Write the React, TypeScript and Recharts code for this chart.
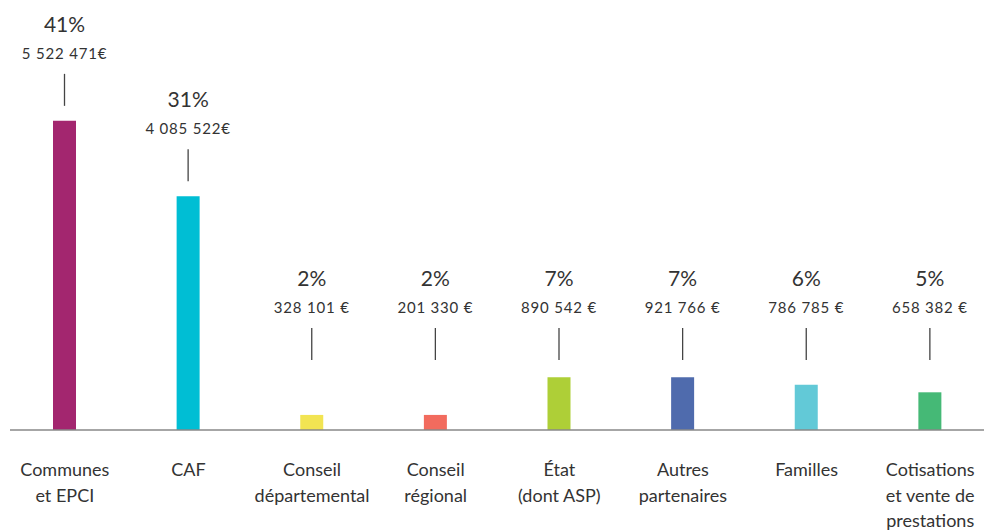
import { BarChart, Bar, Cell, XAxis, YAxis, LabelList } from "recharts";

const FONT = "Lato, 'Open Sans', sans-serif";
const TEXT = "#333333";

// ─── Data ────────────────────────────────────────────────────────────────────

const categories = [
  "Communes\net EPCI",
  "CAF",
  "Conseil\ndépartemental",
  "Conseil\nrégional",
  "État\n(dont ASP)",
  "Autres\npartenaires",
  "Familles",
  "Cotisations\net vente de\nprestations",
];

const percents = [41, 31, 2, 2, 7, 7, 6, 5];

const amountLabels = [
  "5 522 471€",
  "4 085 522€",
  "328 101 €",
  "201 330 €",
  "890 542 €",
  "921 766 €",
  "786 785 €",
  "658 382 €",
];

const colors = [
  "#A3266F",
  "#00BED4",
  "#F2E452",
  "#F26B5E",
  "#AECF37",
  "#4F6BAD",
  "#62C9D7",
  "#45B976",
];

const chartData = categories.map((name, i) => ({
  name,
  pct: percents[i],
  amount: amountLabels[i],
}));

// ─── Custom pieces ───────────────────────────────────────────────────────────

function CategoryTick(props: any) {
  const { x, y, payload } = props;
  const lines = String(payload.value).split("\n");
  return (
    <g>
      {lines.map((line, i) => (
        <text
          key={i}
          x={x}
          y={y + 38 + i * 25.5}
          textAnchor="middle"
          fill={TEXT}
          fontFamily={FONT}
          fontSize={18}
        >
          {line}
        </text>
      ))}
    </g>
  );
}

function BarLabel(props: any) {
  const { x, y, width, height, index } = props;
  const cx = x + width / 2;
  const base = y + height;
  // short bars keep their labels at a common minimum height
  const anchor = Math.min(y, base - 55);
  return (
    <g>
      <text
        x={cx}
        y={anchor - 89}
        textAnchor="middle"
        fill={TEXT}
        fontFamily={FONT}
        fontSize={21}
      >
        {`${percents[index]}%`}
      </text>
      <text
        x={cx}
        y={anchor - 62}
        textAnchor="middle"
        fill={TEXT}
        fontFamily={FONT}
        fontSize={15}
        letterSpacing={0.8}
      >
        {amountLabels[index]}
      </text>
      <line x1={cx} x2={cx} y1={anchor - 47} y2={anchor - 15} stroke="#444" strokeWidth={1.3} />
    </g>
  );
}

export default function App() {
  return (
    <div
      style={{
        position: "fixed",
        left: 0,
        top: 0,
        width: 984,
        height: 530,
        overflow: "hidden",
        background: "#fff",
      }}
    >
      <BarChart
        width={992}
        height={530}
        data={chartData}
        margin={{ top: 53, right: 0, left: 10, bottom: 0 }}
      >
        <XAxis
          dataKey="name"
          interval={0}
          height={100}
          tickLine={false}
          axisLine={{ stroke: "#888", strokeWidth: 1.5 }}
          tick={<CategoryTick />}
          padding={{ left: -7, right: 0 }}
        />
        <YAxis hide domain={[0, 50]} />
        <Bar dataKey="pct" barSize={23} isAnimationActive={false}>
          {chartData.map((_d, i) => (
            <Cell key={`c-${i}`} fill={colors[i]} />
          ))}
          <LabelList dataKey="pct" content={<BarLabel />} />
        </Bar>
      </BarChart>
    </div>
  );
}
